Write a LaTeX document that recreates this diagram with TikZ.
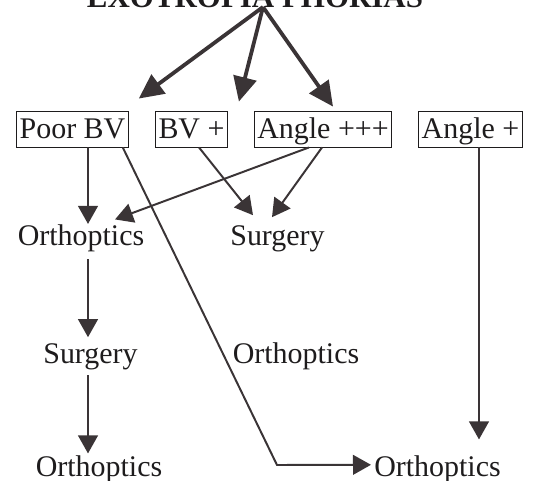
\documentclass[tikz,border=0pt]{standalone}
\usepackage{fontspec}
\setmainfont{Liberation Serif}
\definecolor{inkGrey}{RGB}{58,52,54}
\definecolor{inkBlack}{RGB}{30,28,29}
\usetikzlibrary{positioning, calc, arrows.meta}

\begin{document}
\begin{tikzpicture}[
    x=0.025cm, y=-0.025cm,
    factor/.style={rectangle, draw=inkBlack, line width=0.6pt, text=inkBlack,
                   inner xsep=0.075cm, inner ysep=0pt,
                   text height=0.675cm, text depth=0.225cm,
                   font=\fontsize{21.3}{25}\selectfont},
    outcome/.style={inner sep=0pt, anchor=base, text=inkBlack,
                    font=\fontsize{21.3}{25}\selectfont},
    headline/.style={inner sep=0pt, anchor=base, text=inkBlack,
                     font=\bfseries\fontsize{22}{26}\selectfont},
    lead/.style={draw=inkGrey, line width=2.7pt,
                 -{Triangle[length=17.5pt, width=16.5pt]}},
    link/.style={draw=inkGrey, line width=1.4pt,
                 -{Triangle[length=12.8pt, width=14pt]}}
  ]
    \clip (0,0) rectangle (534,481);
    \node[headline] (TTL) at (255,7) {EXOTROPIA PHORIAS};
    \coordinate (SRC) at (263,7);
    % first row
    \node[factor] (PBV) at (72.5,129) {Poor BV};
    \node[factor] (BVP) at (191.5,129) {BV +};
    \node[factor] (ANG3) at (323,129) {Angle +++};
    \node[factor] (ANG1) at (470.5,129) {Angle +};
    % outcomes
    \node[outcome] (ORTH1) at (81,245) {Orthoptics};
    \node[outcome] (SURG1) at (277.5,245) {Surgery};
    \node[outcome] (SURG2) at (90.5,363) {Surgery};
    \node[outcome] (ORTH2) at (296,363) {Orthoptics};
    \node[outcome] (ORTH3) at (99,476) {Orthoptics};
    \node[outcome] (ORTH4) at (437.5,476) {Orthoptics};
    \coordinate (KINK) at (277,465);

    \draw[lead] (SRC) -- ($(PBV.north east)+(10,-12)$);
    \draw[lead] (SRC) -- ($(BVP.north east)+(11,-9)$);
    \draw[lead] (SRC) -- ($(ANG3.north)+(10,-4)$);

    \draw[link] ($(PBV.south)+(15.5,0)$) -- ($(ORTH1.north)+(7,0)$);
    \draw[link] ($(ORTH1.south)+(7,7.5)$) -- ($(SURG2.north)+(-2.5,-5.7)$);
    \draw[link] ($(SURG2.south)+(-2.5,5.5)$) -- ($(ORTH3.north)+(-11,-1.5)$);
    \draw[link] ($(PBV.south east)+(-6,0)$) -- (KINK) -- ($(ORTH4.west)+(-3,-4)$);
    \draw[link] ($(BVP.south)+(7.5,0)$) -- ($(SURG1.north)+(-24.5,-9.7)$);
    \draw[link] ($(ANG3.south)+(-1,0)$) -- ($(SURG1.north)+(-5.5,-7.7)$);
    \draw[link] ($(ANG3.south)+(-14,0)$) -- ($(ORTH1.north)+(34,-4.5)$);
    \draw[link] ($(ANG1.south)+(8.5,0)$) -- ($(ORTH4.north)+(41.5,-15.5)$);
  \end{tikzpicture}
\end{document}
